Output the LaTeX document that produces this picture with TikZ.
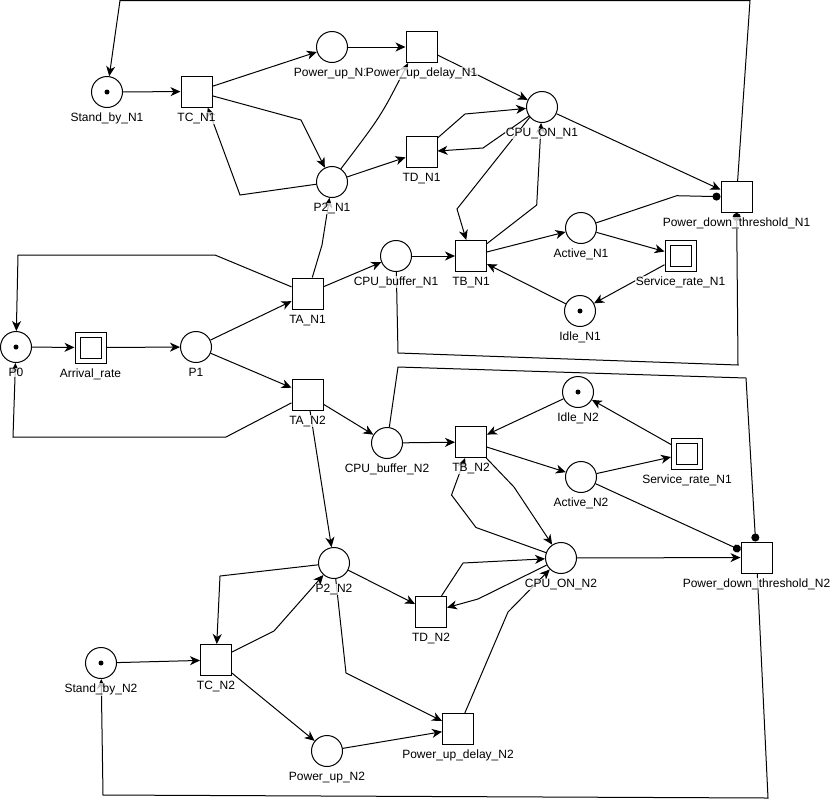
\documentclass[tikz,border=0pt]{standalone}
\usepackage{fontspec}
\setmainfont{Liberation Sans}
\usetikzlibrary{arrows.meta}
\begin{document}
\begin{tikzpicture}[x=1pt,y=-1pt,
  place/.style={circle,draw,fill=white,minimum size=31pt,inner sep=0pt,line width=1pt},
  trans/.style={rectangle,draw,fill=white,minimum size=31pt,inner sep=0pt,line width=1pt},
  timed/.style={trans,path picture={\draw[line width=1pt]
      ([shift={(5pt,-5pt)}]path picture bounding box.north west) rectangle
      ([shift={(-5pt,5pt)}]path picture bounding box.south east);}},
  token/.style={circle,fill=black,inner sep=0pt,minimum size=5pt},
  marked/.style={place,label={[token]center:}},
  lbl/.style={font=\fontsize{12}{14}\selectfont, fill=white, fill opacity=0.75,
      text opacity=1, inner sep=0.6pt, anchor=base},
  flow/.style={draw,line width=1pt,-{Stealth[length=10pt,width=9pt,inset=3pt]}},
  inhib/.style={draw,line width=1pt,-{Circle[length=8pt]}},
]
\useasboundingbox (0,0) rectangle (834,801);

% ---------- places and transitions ----------
% node N1
\node[marked] (Stand_by_N1) at (107,92) {};
\node[trans]  (TC_N1) at (196.5,91.5) {};
\node[place]  (Power_up_N1) at (332,47) {};
\node[trans]  (PUD_N1) at (421.5,47) {};
\node[trans]  (TD_N1) at (421.5,152) {};
\node[place]  (P2_N1) at (332,182) {};
\node[place]  (CPU_ON_N1) at (542,107) {};
\node[trans]  (PDT_N1) at (736.5,197) {};
\node[place]  (CPU_buffer_N1) at (396,256) {};
\node[trans]  (TB_N1) at (471,256) {};
\node[place]  (Active_N1) at (581,228) {};
\node[timed]  (Service_rate_N1) at (680.5,256) {};
\node[marked] (Idle_N1) at (580,311) {};
\node[trans]  (TA_N1) at (307.5,293.5) {};
% arrivals
\node[marked] (P0) at (16,347) {};
\node[timed]  (Arrival_rate) at (90.5,347.5) {};
\node[place]  (P1) at (196,347) {};
% node N2
\node[trans]  (TA_N2) at (307.5,394.5) {};
\node[place]  (CPU_buffer_N2) at (387,443) {};
\node[trans]  (TB_N2) at (471,442) {};
\node[marked] (Idle_N2) at (578,392) {};
\node[place]  (Active_N2) at (581,477) {};
\node[timed]  (Service_rate_N2) at (687,453.5) {};
\node[place]  (CPU_ON_N2) at (561,558) {};
\node[trans]  (PDT_N2) at (756.5,557.5) {};
\node[trans]  (TD_N2) at (431,612) {};
\node[trans]  (PUD_N2) at (458,729) {};
\node[place]  (P2_N2) at (334,563) {};
\node[trans]  (TC_N2) at (216,660) {};
\node[marked] (Stand_by_N2) at (101,663) {};
\node[place]  (Power_up_N2) at (327,751) {};

% ---------- arcs of N1 ----------
\path[flow] (Stand_by_N1) -- (TC_N1);
\path[flow] (TC_N1) -- (Power_up_N1);
\path[flow] (Power_up_N1) -- (PUD_N1);
\path[flow] (TC_N1) -- (301,120) -- (P2_N1);
\path[flow] (P2_N1) -- (240,195) -- (TC_N1.-55);
\path[flow] (P2_N1.56) .. controls (381,116) .. (PUD_N1.-130);
\path[flow] (P2_N1) -- (TD_N1);
\path[flow] (PUD_N1) -- (CPU_ON_N1);
\path[flow] (TD_N1) -- (465,114) -- (CPU_ON_N1);
\path[flow] (CPU_ON_N1) -- (483,148) -- (TD_N1);
\path[flow] (CPU_ON_N1.-140) -- (457,209) -- (TB_N1);
\path[flow] (TB_N1) -- (536.7,205) -- (CPU_ON_N1);
\path[flow] (CPU_buffer_N1) -- (TB_N1);
\path[flow] (TB_N1) -- (Active_N1);
\path[flow] (Active_N1) -- (Service_rate_N1);
\path[flow] (Service_rate_N1) -- (Idle_N1);
\path[flow] (Idle_N1) -- (TB_N1);
\path[flow] (CPU_ON_N1) -- (PDT_N1);
\path[inhib] (Active_N1) -- (676.7,195.7) -- (PDT_N1);
\path[inhib] (CPU_buffer_N1) -- (398,353) -- (738,365) -- (PDT_N1);
\path[flow] (PDT_N1) -- (750,0.5) -- (120,0.5) -- (Stand_by_N1);

% ---------- arrivals and dispatch ----------
\path[flow] (TA_N1) -- (322,245) -- (P2_N1);
\path[flow] (TA_N1) -- (CPU_buffer_N1);
\path[flow] (TA_N1) -- (215,255) -- (18,255) -- (P0);
\path[flow] (P0) -- (Arrival_rate);
\path[flow] (Arrival_rate) -- (P1);
\path[flow] (P1) -- (TA_N1);
\path[flow] (P1) -- (TA_N2);
\path[flow] (TA_N2) -- (226,437) -- (13,437) -- (P0);
\path[flow] (TA_N2) -- (CPU_buffer_N2);
\path[flow] (TA_N2) -- (P2_N2);

% ---------- arcs of N2 ----------
\path[flow] (CPU_buffer_N2) -- (TB_N2);
\path[flow] (Idle_N2) -- (TB_N2);
\path[flow] (TB_N2) -- (Active_N2);
\path[flow] (TB_N2) -- (514,487) -- (CPU_ON_N2);
\path[flow] (CPU_ON_N2) -- (476,527.5) -- (451.5,495) -- (TB_N2);
\path[flow] (Active_N2) -- (Service_rate_N2);
\path[flow] (Service_rate_N2) -- (Idle_N2);
\path[inhib] (Active_N2) -- (PDT_N2);
\path[flow] (CPU_ON_N2) -- (PDT_N2);
\path[flow] (TD_N2) -- (463,563) -- (CPU_ON_N2);
\path[flow] (CPU_ON_N2) -- (478,599) -- (TD_N2);
\path[flow] (PUD_N2) -- (508,612) -- (CPU_ON_N2);
\path[flow] (P2_N2) -- (TD_N2);
\path[flow] (P2_N2) -- (220,576) -- (TC_N2);
\path[flow] (TC_N2) -- (274,631) -- (P2_N2);
\path[flow] (P2_N2) -- (346,673) -- (PUD_N2);
\path[flow] (Stand_by_N2) -- (TC_N2);
\path[flow] (TC_N2) -- (Power_up_N2);
\path[flow] (Power_up_N2) -- (PUD_N2);
\path[flow] (PDT_N2) -- (768,798) -- (103,795) -- (Stand_by_N2);
\path[inhib] (CPU_buffer_N2) -- (398,367) -- (746,378) -- (PDT_N2);

% ---------- labels ----------
\node[lbl] (Stand_by_N1L) at ([yshift=-13.5pt]Stand_by_N1.south) {Stand\_by\_N1};
\node[lbl] (TC_N1L) at ([yshift=-13.5pt]TC_N1.south) {TC\_N1};
\node[lbl] (Power_up_N1L) at ([yshift=-13.5pt]Power_up_N1.south) {Power\_up\_N1};
\node[lbl] (PUD_N1L) at ([yshift=-13.5pt]PUD_N1.south) {Power\_up\_delay\_N1};
\node[lbl] (TD_N1L) at ([yshift=-13.5pt]TD_N1.south) {TD\_N1};
\node[lbl] (P2_N1L) at ([yshift=-13.5pt]P2_N1.south) {P2\_N1};
\node[lbl] (CPU_ON_N1L) at ([yshift=-13.5pt]CPU_ON_N1.south) {CPU\_ON\_N1};
\node[lbl] (PDT_N1L) at ([yshift=-13.5pt]PDT_N1.south) {Power\_down\_threshold\_N1};
\node[lbl] (CPU_buffer_N1L) at ([yshift=-13.5pt]CPU_buffer_N1.south) {CPU\_buffer\_N1};
\node[lbl] (TB_N1L) at ([yshift=-13.5pt]TB_N1.south) {TB\_N1};
\node[lbl] (Active_N1L) at ([yshift=-13.5pt]Active_N1.south) {Active\_N1};
\node[lbl] (Service_rate_N1L) at ([yshift=-13.5pt]Service_rate_N1.south) {Service\_rate\_N1};
\node[lbl] (Idle_N1L) at ([yshift=-13.5pt]Idle_N1.south) {Idle\_N1};
\node[lbl] (TA_N1L) at ([yshift=-13.5pt]TA_N1.south) {TA\_N1};
\node[lbl] (P0L) at ([yshift=-13.5pt]P0.south) {P0};
\node[lbl] (Arrival_rateL) at ([yshift=-13.5pt]Arrival_rate.south) {Arrival\_rate};
\node[lbl] (P1L) at ([yshift=-13.5pt]P1.south) {P1};
\node[lbl] (TA_N2L) at ([yshift=-13.5pt]TA_N2.south) {TA\_N2};
\node[lbl] (CPU_buffer_N2L) at ([yshift=-13.5pt]CPU_buffer_N2.south) {CPU\_buffer\_N2};
\node[lbl] (TB_N2L) at ([yshift=-13.5pt]TB_N2.south) {TB\_N2};
\node[lbl] (Idle_N2L) at ([yshift=-13.5pt]Idle_N2.south) {Idle\_N2};
\node[lbl] (Active_N2L) at ([yshift=-13.5pt]Active_N2.south) {Active\_N2};
\node[lbl] (Service_rate_N2L) at ([yshift=-13.5pt]Service_rate_N2.south) {Service\_rate\_N1};
\node[lbl] (CPU_ON_N2L) at ([yshift=-13.5pt]CPU_ON_N2.south) {CPU\_ON\_N2};
\node[lbl] (PDT_N2L) at ([yshift=-13.5pt]PDT_N2.south) {Power\_down\_threshold\_N2};
\node[lbl] (TD_N2L) at ([yshift=-13.5pt]TD_N2.south) {TD\_N2};
\node[lbl] (PUD_N2L) at ([yshift=-13.5pt]PUD_N2.south) {Power\_up\_delay\_N2};
\node[lbl] (P2_N2L) at ([yshift=-13.5pt]P2_N2.south) {P2\_N2};
\node[lbl] (TC_N2L) at ([yshift=-13.5pt]TC_N2.south) {TC\_N2};
\node[lbl] (Stand_by_N2L) at ([yshift=-13.5pt]Stand_by_N2.south) {Stand\_by\_N2};
\node[lbl] (Power_up_N2L) at ([yshift=-13.5pt]Power_up_N2.south) {Power\_up\_N2};
\end{tikzpicture}
\end{document}
